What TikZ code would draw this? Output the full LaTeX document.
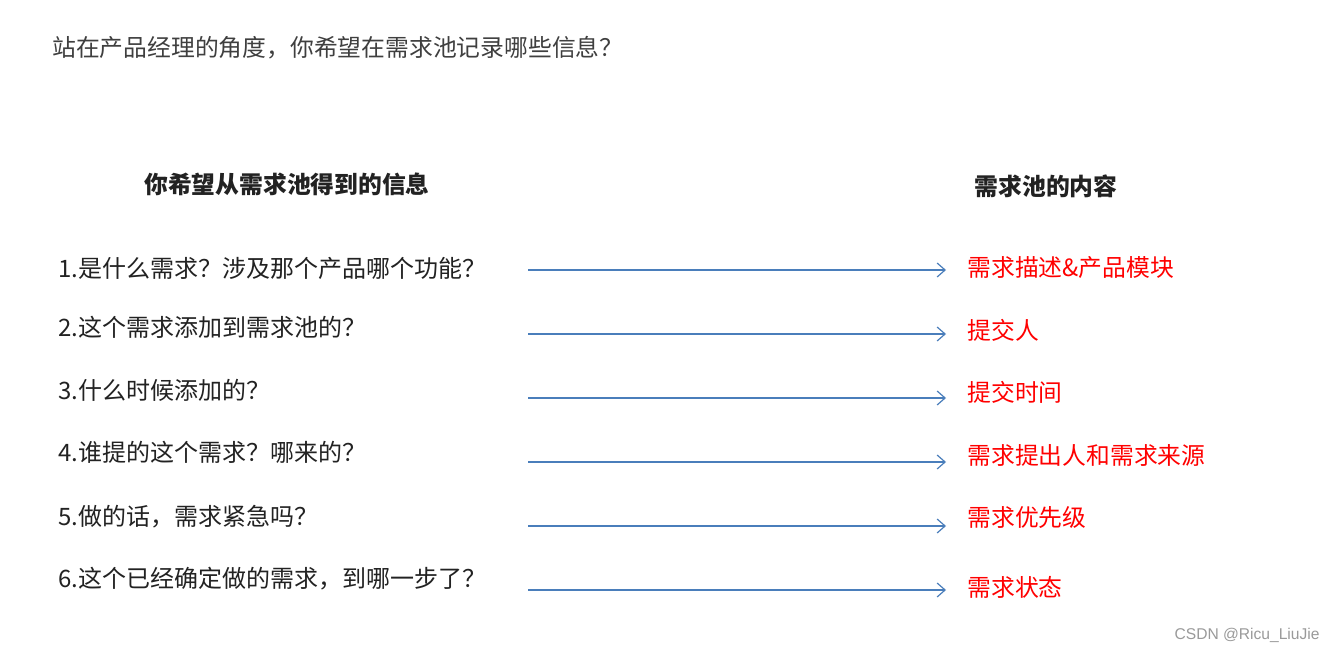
\documentclass[tikz,border=0pt]{standalone}
\usepackage{fontspec}
\setmainfont{Noto Sans CJK SC}
\setsansfont{Liberation Sans}
\usetikzlibrary{arrows.meta}
\definecolor{titlegray}{HTML}{3F3F3F}
\definecolor{itemtext}{HTML}{222222}
\definecolor{arrowblue}{HTML}{4A7EBB}
\definecolor{wmgray}{HTML}{9A9A9A}
\begin{document}
\begin{tikzpicture}[x=0.5pt,y=-0.5pt,
  title/.style={anchor=west,inner sep=0pt,text=titlegray,font=\fontsize{11.9pt}{14pt}\selectfont},
  header/.style={inner sep=0pt,text=itemtext,font=\fontsize{11.9pt}{14pt}\selectfont\bfseries},
  item/.style={anchor=west,inner sep=0pt,text=itemtext,font=\fontsize{12pt}{14pt}\selectfont},
  content/.style={anchor=west,inner sep=0pt,text=red,font=\fontsize{11.9pt}{14pt}\selectfont},
  link/.style={draw=arrowblue,line width=0.6pt,-{Straight Barb[length=4pt,width=7pt]}},
  wm/.style={anchor=east,inner sep=0pt,text=wmgray,font=\sffamily\fontsize{7.8pt}{9pt}\selectfont}]
\useasboundingbox[fill=white] (0,0) rectangle (1335,653);
\node[title] (t) at (52,48) {站在产品经理的角度，你希望在需求池记录哪些信息？};
\node[header] (hl) at (287,184) {你希望从需求池得到的信息};
\node[header] (hr) at (1046,186) {需求池的内容};

\node[item] (l1) at (58,268) {1.是什么需求？涉及那个产品哪个功能？};
\node[item] (l2) at (58,327) {2.这个需求添加到需求池的？};
\node[item] (l3) at (58,390) {3.什么时候添加的？};
\node[item] (l4) at (58,452) {4.谁提的这个需求？哪来的？};
\node[item] (l5) at (58,517) {5.做的话，需求紧急吗？};
\node[item] (l6) at (58,579) {6.这个已经确定做的需求，到哪一步了？};

\node[content] (r1) at (967,268) {需求描述\&产品模块};
\node[content] (r2) at (967,330) {提交人};
\node[content] (r3) at (967,392) {提交时间};
\node[content] (r4) at (967,455) {需求提出人和需求来源};
\node[content] (r5) at (967,517) {需求优先级};
\node[content] (r6) at (967,587) {需求状态};

\foreach \i/\y in {1/270,2/334,3/398,4/462,5/526,6/590}{
  \coordinate (s\i) at (528,\y);
  \coordinate (e\i) at (946,\y);
  \draw[link] (s\i) -- (e\i);
}
\node[wm] (w) at (1320,635) {CSDN @Ricu\_LiuJie};
\end{tikzpicture}
\end{document}
